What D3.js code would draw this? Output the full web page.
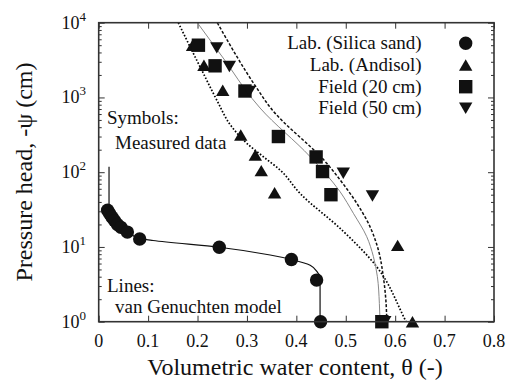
<!DOCTYPE html>
<html><head><meta charset="utf-8">
<script src="https://cdn.jsdelivr.net/npm/d3@7"></script>
<style>
body{margin:0;background:#fff;}
svg text{fill:#111;}
</style></head>
<body><svg id="c" width="511" height="382"></svg>
<script>
// ---- data (theta [-], pressure head [cm]) ----
const silicaSand = [[0.018,31],[0.022,28],[0.027,25],[0.032,22.5],[0.038,20],[0.045,18.3],[0.058,15.8],[0.083,12.8],[0.244,9.9],[0.39,6.8],[0.441,3.6],[0.449,1]];
const andisol = [[0.19,5000],[0.213,2700],[0.251,1250],[0.2875,315],[0.317,170],[0.329,105],[0.356,53],[0.605,10.5],[0.635,1]];
const field20 = [[0.2018,5000],[0.2355,2650],[0.296,1220],[0.3637,300],[0.44,160],[0.453,102],[0.470,50],[0.573,1]];
const field50 = [[0.239,4600],[0.2645,2600],[0.305,1200],[0.495,97],[0.554,48],[0.579,1]];

const silicaLine = [[0.0209,118],[0.0209,38],[0.022,30],[0.03,24],[0.045,18],[0.06,15.5],[0.083,13],[0.11,12.2],[0.244,9.9],[0.347,7.8],[0.39,6.8],[0.428,5.7],[0.4447,4.4],[0.448,4.1],[0.448,1]];
const andisolLine = [[0.1611,10000],[0.1848,4775],[0.2117,2104],[0.2389,925],[0.2692,406],[0.2996,244],[0.3332,161],[0.367,107],[0.4075,52],[0.492,16.9],[0.563,5.4],[0.617,1.17],[0.622,1]];
const field20Line = [[0.1996,10000],[0.255,3160],[0.31,975],[0.3265,723],[0.428,161],[0.4885,54.8],[0.5154,28.2],[0.5425,13.7],[0.556,7.41],[0.564,4.0],[0.568,1.76],[0.5694,1]];
const field50Line = [[0.24,10000],[0.318,1393],[0.348,723],[0.4615,131.5],[0.4887,78.7],[0.5223,38.4],[0.549,18.7],[0.566,9.1],[0.576,4.0],[0.5816,1.76],[0.583,1]];

const xTicks = [0,0.1,0.2,0.3,0.4,0.5,0.6,0.7,0.8];
const xTickLabels = ["0","0.1","0.2","0.3","0.4","0.5","0.6","0.7","0.8"];
const yTicks = [1,10,100,1000,10000];
const yTickExp = ["0","1","2","3","4"];
const legendLabels = ["Lab. (Silica sand)","Lab. (Andisol)","Field (20 cm)","Field (50 cm)"];

// ---- layout ----
const FONT='"Liberation Serif"';
const L=98.7,R=494,T=22.7,B=321.7;
const x=d3.scaleLinear().domain([0,0.8]).range([L,R]);
const y=d3.scaleLog().domain([1,1e4]).range([B,T]);
const svg=d3.select("#c");
const FS=18;

const minor=[];
for(let e=0;e<4;e++) for(let k=2;k<10;k++) minor.push(k*Math.pow(10,e));

const g=svg.append("g");
function drawAxis(axis, tr){
  const a=g.append("g").attr("transform",tr).call(axis);
  a.select(".domain").remove();
  a.selectAll("line").attr("stroke","#333").attr("stroke-width",1);
  a.selectAll("text").remove();
  return a;
}
drawAxis(d3.axisBottom(x).tickValues(xTicks).tickSize(-6),`translate(0,${B})`);
drawAxis(d3.axisTop(x).tickValues(xTicks).tickSize(-6),`translate(0,${T})`);
drawAxis(d3.axisLeft(y).tickValues(yTicks).tickSize(-6),`translate(${L},0)`);
drawAxis(d3.axisRight(y).tickValues(yTicks).tickSize(-6),`translate(${R},0)`);
drawAxis(d3.axisLeft(y).tickValues(minor).tickSize(-3),`translate(${L},0)`);
drawAxis(d3.axisRight(y).tickValues(minor).tickSize(-3),`translate(${R},0)`);

// lines
const line=d3.line().x(d=>x(d[0])).y(d=>y(d[1])).curve(d3.curveMonotoneY);
g.append("path").attr("d",line(andisolLine)).attr("fill","none").attr("stroke","#000").attr("stroke-width",1.7).attr("stroke-dasharray","1.6,1.8");
g.append("path").attr("d",line(field20Line)).attr("fill","none").attr("stroke","#888").attr("stroke-width",1);
g.append("path").attr("d",line(field50Line)).attr("fill","none").attr("stroke","#111").attr("stroke-width",1.5).attr("stroke-dasharray","3,1.8");
g.append("path").attr("d",line(silicaLine)).attr("fill","none").attr("stroke","#111").attr("stroke-width",1.2);

// markers
const S=13.4;
const shapes={
  circle:(cx,cy)=>`M${cx+S/2},${cy}A${S/2},${S/2} 0 1,1 ${cx-S/2},${cy}A${S/2},${S/2} 0 1,1 ${cx+S/2},${cy}Z`,
  tri:(cx,cy)=>{const h=S*0.85;return `M${cx},${cy-h/2}L${cx+S/2},${cy+h/2}L${cx-S/2},${cy+h/2}Z`;},
  square:(cx,cy)=>`M${cx-S/2},${cy-S/2}h${S}v${S}h${-S}Z`,
  itri:(cx,cy)=>{const h=S*0.85;return `M${cx},${cy+h/2}L${cx+S/2},${cy-h/2}L${cx-S/2},${cy-h/2}Z`;}
};
const series=[[silicaSand,"circle"],[andisol,"tri"],[field20,"square"],[field50,"itri"]];
series.forEach(([data,sh])=>{
  g.append("g").selectAll("path").data(data).join("path")
    .attr("d",d=>shapes[sh](x(d[0]),y(d[1]))).attr("fill","#111");
});

// frame
g.append("rect").attr("x",L).attr("y",T).attr("width",R-L).attr("height",B-T)
  .attr("fill","none").attr("stroke","#333").attr("stroke-width",1.6);

function txt(sel){return sel.style("font-family",FONT);}
// x tick labels
txt(svg.append("g").selectAll("text").data(xTicks).join("text"))
  .attr("x",d=>x(d)).attr("y",347).attr("text-anchor","middle").attr("font-size",FS)
  .text((d,i)=>xTickLabels[i]);
// y tick labels
const yl=txt(svg.append("g").selectAll("text").data(yTicks).join("text"))
  .attr("x",86).attr("y",d=>y(d)+6).attr("text-anchor","end").attr("font-size",FS);
yl.append("tspan").text("10");
yl.append("tspan").attr("dy",-8).attr("font-size",13).text((d,i)=>yTickExp[i]);

// axis titles
txt(svg.append("text")).attr("x",295).attr("y",375).attr("text-anchor","middle").attr("font-size",24)
  .text("Volumetric water content, θ (-)");
txt(svg.append("text")).attr("transform",`translate(32,172) rotate(-90)`).attr("text-anchor","middle").attr("font-size",24)
  .text("Pressure head, -ψ (cm)");

// annotations
txt(svg.append("text")).attr("x",107).attr("y",124).attr("font-size",19).text("Symbols:");
txt(svg.append("text")).attr("x",115).attr("y",149).attr("font-size",19).text("Measured data");
txt(svg.append("text")).attr("x",107).attr("y",292).attr("font-size",19).text("Lines:");
txt(svg.append("text")).attr("x",115).attr("y",313).attr("font-size",19).text("van Genuchten model");

// legend
const legY=[43.3,65,86.7,108.3];
const legShapes=["circle","tri","square","itri"];
legendLabels.forEach((t,i)=>{
  txt(svg.append("text")).attr("x",421.7).attr("y",legY[i]+6).attr("text-anchor","end").attr("font-size",19).text(t);
  svg.append("path").attr("d",shapes[legShapes[i]](465.7,legY[i])).attr("fill","#111");
});
</script></body></html>
